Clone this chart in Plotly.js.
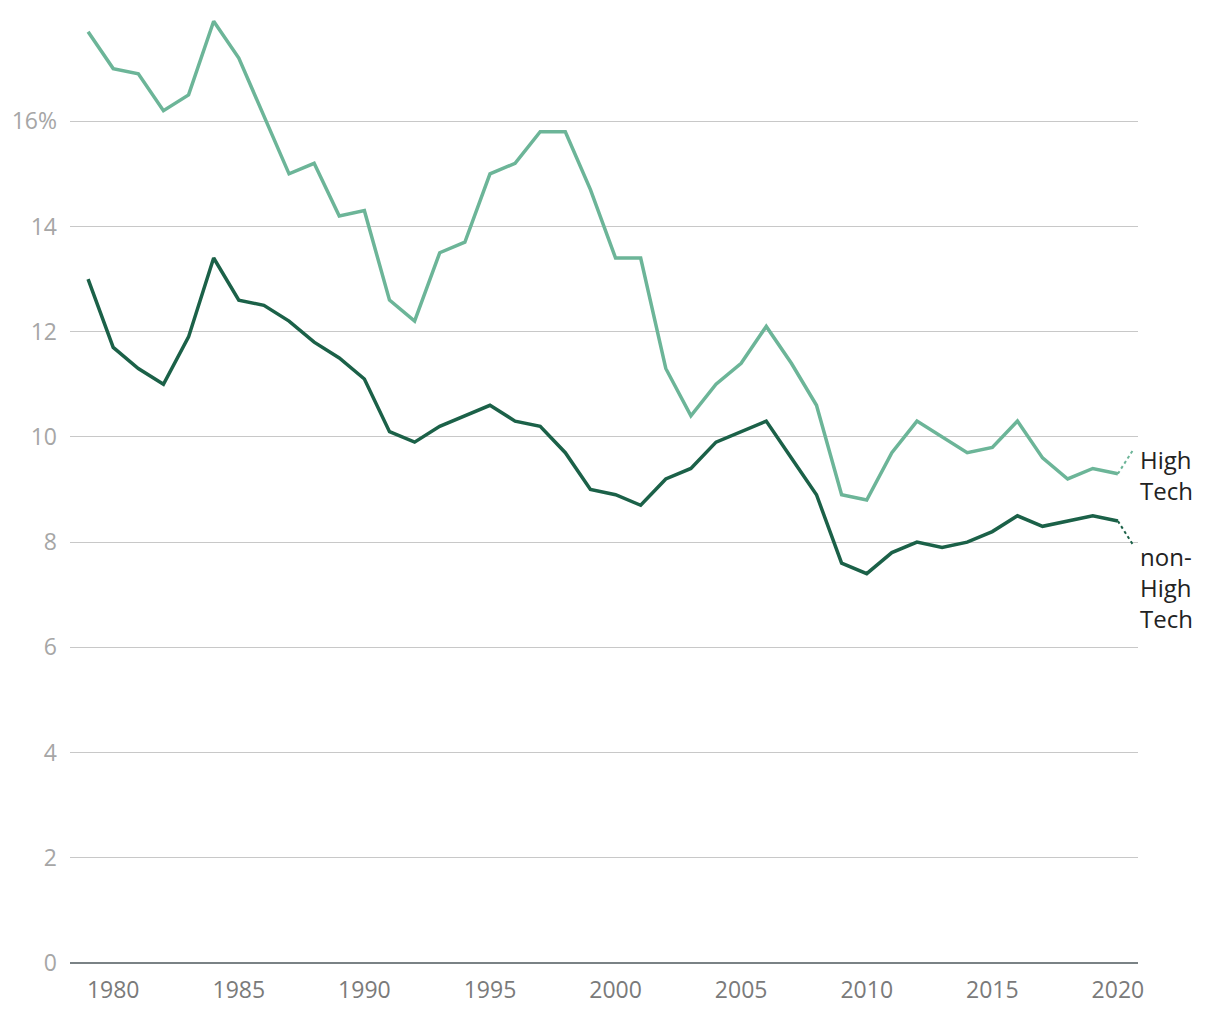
<!DOCTYPE html>
<html>
<head>
<meta charset="utf-8">
<script src="https://cdn.plot.ly/plotly-3.0.1.min.js"></script>
<style>
  html, body { margin: 0; padding: 0; background: #fff; }
  #chart { width: 1220px; height: 1020px; }
</style>
</head>
<body>
<div id="chart"></div>
<script>
// years shown on the x axis
const years = [];
for (let y = 1979; y <= 2020; y++) years.push(y);

// share (%) - high tech
const highTech = [
  17.7, 17.0, 16.9, 16.2, 16.5, 17.9, 17.2, 16.1, 15.0, 15.2,
  14.2, 14.3, 12.6, 12.2, 13.5, 13.7, 15.0, 15.2, 15.8, 15.8,
  14.7, 13.4, 13.4, 11.3, 10.4, 11.0, 11.4, 12.1, 11.4, 10.6,
  8.9, 8.8, 9.7, 10.3, 10.0, 9.7, 9.8, 10.3, 9.6, 9.2,
  9.4, 9.3
];

// share (%) - non-high tech
const nonHighTech = [
  13.0, 11.7, 11.3, 11.0, 11.9, 13.4, 12.6, 12.5, 12.2, 11.8,
  11.5, 11.1, 10.1, 9.9, 10.2, 10.4, 10.6, 10.3, 10.2, 9.7,
  9.0, 8.9, 8.7, 9.2, 9.4, 9.9, 10.1, 10.3, 9.6, 8.9,
  7.6, 7.4, 7.8, 8.0, 7.9, 8.0, 8.2, 8.5, 8.3, 8.4,
  8.5, 8.4
];

const seriesNames = ['High<br>Tech', 'non-<br>High<br>Tech'];
const labelY = [9.75, 7.95];   // where the dotted leaders end
const yTickVals = [0, 2, 4, 6, 8, 10, 12, 14, 16];
const yTickText = ['0', '2', '4', '6', '8', '10', '12', '14', '16%'];
const xTickVals = [1980, 1985, 1990, 1995, 2000, 2005, 2010, 2015, 2020];

const colors = ['#6cb598', '#1b6148'];
const allSeries = [highTech, nonHighTech];
const lastYear = years[years.length - 1];

const data = [];
allSeries.forEach((vals, i) => {
  data.push({
    x: years,
    y: vals,
    type: 'scatter',
    mode: 'lines',
    line: { color: colors[i], width: 3.5 },
    hoverinfo: 'skip'
  });
  // dotted leader to the label
  data.push({
    x: [lastYear, lastYear + 0.6],
    y: [vals[vals.length - 1], labelY[i]],
    type: 'scatter',
    mode: 'lines',
    line: { color: colors[i], width: 2, dash: 'dot' },
    hoverinfo: 'skip'
  });
});

const annotations = [
  { text: seriesNames[0], y: 9.28 },
  { text: seriesNames[1], y: 7.13 }
].map(a => ({
  text: a.text,
  xref: 'paper', yref: 'y',
  x: 1.0, y: a.y,
  xanchor: 'left', yanchor: 'middle',
  align: 'left',
  showarrow: false,
  font: { family: 'Open Sans, sans-serif', size: 24, color: '#222' }
}));

const layout = {
  width: 1220,
  height: 1020,
  margin: { l: 70, r: 82, t: 16, b: 57 },
  paper_bgcolor: '#fff',
  plot_bgcolor: '#fff',
  showlegend: false,
  font: { family: 'Open Sans, sans-serif' },
  xaxis: {
    range: [1978.28, 2020.8],
    tickvals: xTickVals,
    showgrid: false,
    zeroline: false,
    showline: false,
    ticks: '',
    ticklabelstandoff: 11,
    tickfont: { size: 23, color: '#7a7a7a' }
  },
  yaxis: {
    range: [0, 18],
    tickvals: yTickVals,
    ticktext: yTickText,
    showgrid: true,
    gridcolor: '#c8c8c8',
    gridwidth: 1,
    zeroline: true,
    zerolinecolor: '#7a8285',
    zerolinewidth: 2,
    ticks: '',
    ticklabelstandoff: 12,
    tickfont: { size: 23, color: '#a6a6a6' }
  },
  annotations: annotations
};

Plotly.newPlot('chart', data, layout, { displayModeBar: false, staticPlot: true });
</script>
</body>
</html>
